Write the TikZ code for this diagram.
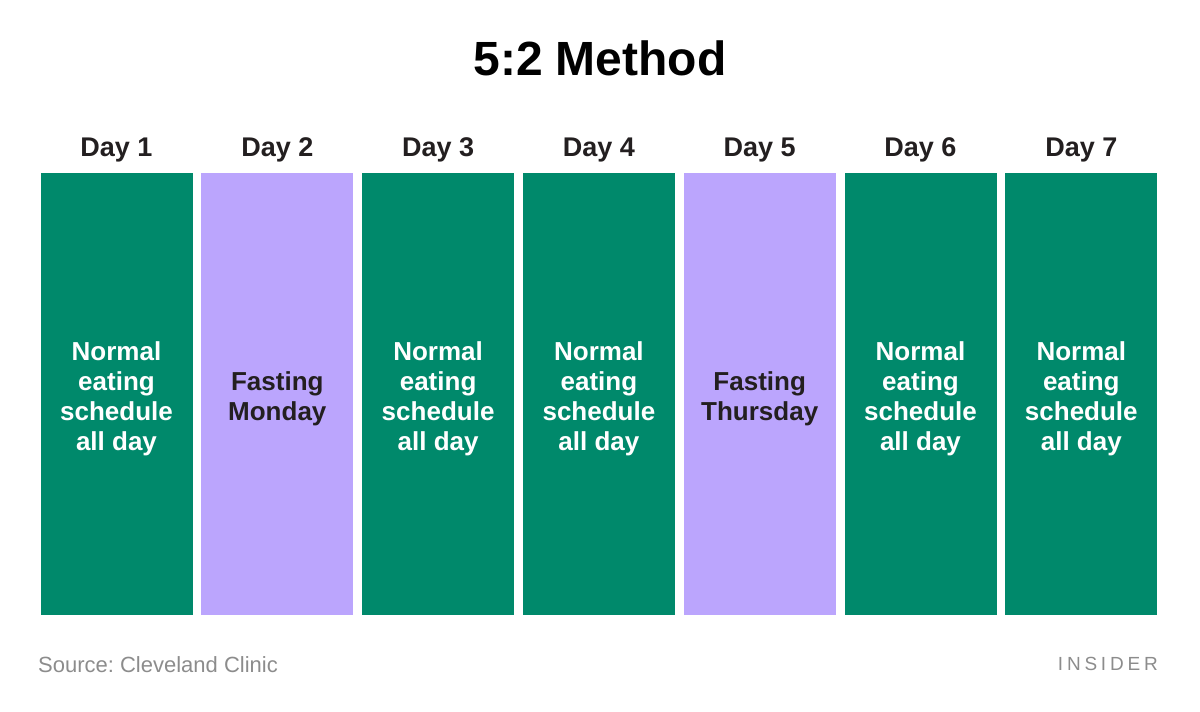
\documentclass[tikz,border=0pt]{standalone}
\usepackage{fontspec}
\setmainfont{Liberation Sans}
\usepackage{tikz}
\usetikzlibrary{positioning}
\definecolor{eatgreen}{HTML}{00896B}
\definecolor{fastpurple}{HTML}{BBA5FD}
\definecolor{inkdark}{HTML}{231F20}
\definecolor{notegray}{HTML}{8C8C8C}
\newcommand{\normalday}{\\[-2pt]Normal\\eating\\schedule\\all day}
\frenchspacing

\begin{document}
\begin{tikzpicture}[x=1pt,y=1pt,node distance=8.8pt]
        \tikzstyle{daycol} = [rectangle, minimum width=152pt, minimum height=442pt, inner sep=0pt, outer sep=0pt, align=center, font=\fontsize{26}{30}\selectfont\bfseries]
        \tikzstyle{eatcol} = [daycol, fill=eatgreen, text=white]
        \tikzstyle{fastcol} = [daycol, fill=fastpurple, text=inkdark]
        \tikzstyle{daylabel} = [font=\fontsize{27}{30}\selectfont\bfseries, text=inkdark, inner sep=0pt]

        \useasboundingbox (0,0) rectangle (1200,712);

        % Title
        \node[font=\fontsize{48}{52}\selectfont\bfseries, inner sep=0pt] (title) at (600,654) {5:2 Method};

        % Columns
        \node[eatcol] (col1) at (116.5,318) {\normalday};
        \node[fastcol, right=of col1] (col2) {\\[-2pt]Fasting\\Monday};
        \node[eatcol, right=of col2] (col3) {\normalday};
        \node[eatcol, right=of col3] (col4) {\normalday};
        \node[fastcol, right=of col4] (col5) {\\[-2pt]Fasting\\Thursday};
        \node[eatcol, right=of col5] (col6) {\normalday};
        \node[eatcol, right=of col6] (col7) {\normalday};

        % Day labels
        \node[daylabel, above=16pt of col1, anchor=base] (lab1) {Day 1};
        \node[daylabel, above=16pt of col2, anchor=base] (lab2) {Day 2};
        \node[daylabel, above=16pt of col3, anchor=base] (lab3) {Day 3};
        \node[daylabel, above=16pt of col4, anchor=base] (lab4) {Day 4};
        \node[daylabel, above=16pt of col5, anchor=base] (lab5) {Day 5};
        \node[daylabel, above=16pt of col6, anchor=base] (lab6) {Day 6};
        \node[daylabel, above=16pt of col7, anchor=base] (lab7) {Day 7};

        % Footer
        \node[anchor=base west, inner sep=0pt, text=notegray, font=\fontsize{22}{24}\selectfont] (source) at (38,39) {Source: Cleveland Clinic};
        \node[anchor=base east, inner sep=0pt, text=notegray, font=\fontsize{19}{22}\selectfont\addfontfeatures{LetterSpace=20}] (brand) at (1158,41) {INSIDER};
    \end{tikzpicture}
\end{document}
